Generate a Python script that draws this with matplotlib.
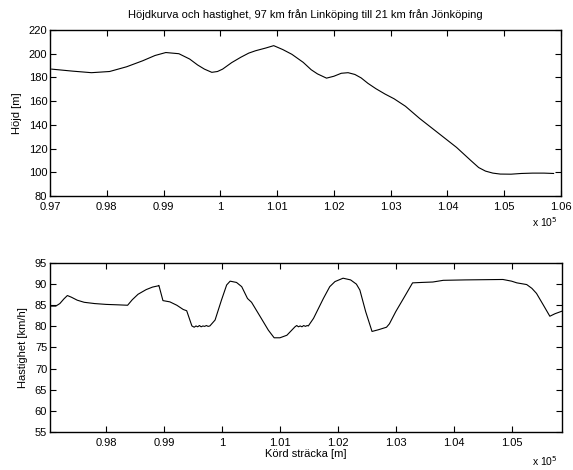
import matplotlib
matplotlib.use('Agg')
import matplotlib.pyplot as plt
from matplotlib.ticker import FuncFormatter

plt.rcParams['font.family'] = ['Liberation Sans', 'DejaVu Sans']
plt.rcParams['font.size'] = 8

# Höjdkurva: sträcka [m], höjd [m]
dist_h = [97030, 97400, 97730, 98050, 98350, 98630, 98850, 99040, 99270, 99460,
          99600, 99720, 99850, 99950, 100040, 100200, 100360, 100500, 100620,
          100800, 100940, 101100, 101260, 101460, 101600, 101710, 101870,
          102000, 102130, 102250, 102370, 102480, 102600, 102740, 102900,
          103060, 103260, 103510, 103830, 104160, 104410, 104550, 104670,
          104800, 104930, 105120, 105300, 105500, 105700, 105870]
hojd = [187, 185.3, 184, 185, 189, 194, 198.5, 201, 200, 195.5,
        190.5, 187, 184.3, 185, 187, 192.5, 197, 200.5, 202.5,
        204.8, 206.8, 203.5, 199.5, 192.7, 186.5, 183, 179.4,
        181, 183.5, 184, 182.5, 179.6, 175, 170.5, 166,
        162, 155.7, 145.4, 133.4, 121, 110, 104, 101,
        99.3, 98.5, 98.4, 99, 99.3, 99.3, 99]

# Hastighet: sträcka [m], hastighet [km/h]
dist_v = [97030, 97130, 97200, 97270, 97330, 97400, 97500, 97620, 97800,
          98000, 98200, 98370, 98450, 98550, 98690, 98800, 98900, 98910,
          98980, 99100, 99220, 99330, 99390, 99480,
          99520, 99550, 99580, 99610, 99640, 99670, 99700, 99730, 99760, 99790,
          99880, 99990, 100080, 100140, 100250, 100340, 100440, 100510,
          100660, 100800, 100900, 101000, 101120, 101260,
          101290, 101320, 101350, 101380, 101410, 101440, 101470, 101490,
          101580, 101750, 101860, 101950, 102090, 102220, 102320, 102380,
          102480, 102590, 102700, 102840, 102890, 103000, 103150, 103290,
          103450, 103640, 103820, 104200, 104850, 105000, 105090, 105260,
          105350, 105430, 105550, 105660, 105750, 105870]
hastighet = [84.8, 84.8, 85.4, 86.5, 87.3, 86.9, 86.2, 85.7, 85.4,
             85.2, 85.1, 85.0, 86.3, 87.6, 88.7, 89.3, 89.6, 89.7,
             86.1, 85.8, 85.0, 84.0, 83.7, 80.1,
             79.8, 80.1, 79.9, 80.2, 79.9, 80.1, 80.0, 80.2, 80.0, 80.1,
             81.5, 86.2, 89.8, 90.7, 90.4, 89.4, 86.6, 85.7,
             82.3, 79.1, 77.3, 77.3, 77.9, 79.9,
             80.2, 79.9, 80.1, 79.9, 80.2, 80.0, 80.2, 80.1,
             81.9, 86.6, 89.4, 90.6, 91.4, 91.0, 90.0, 88.6,
             83.5, 78.8, 79.2, 79.8, 80.6, 83.5, 87.0, 90.3,
             90.4, 90.5, 90.9, 91.0, 91.1, 90.7, 90.3, 89.9,
             89.0, 87.8, 85.0, 82.4, 83.0, 83.6]

top_xticks = [97000 + 1000 * i for i in range(10)]
top_yticks = [80, 100, 120, 140, 160, 180, 200, 220]
bot_xticks = [98000 + 1000 * i for i in range(8)]
bot_yticks = [55, 60, 65, 70, 75, 80, 85, 90, 95]

fmt = FuncFormatter(lambda v, p: ('%g' % round(v / 1e5, 4)))

fig = plt.figure(figsize=(5.73, 4.70), dpi=100)
ax1 = fig.add_axes([50 / 573, 1 - 196 / 470, 511 / 573, 166 / 470])
ax2 = fig.add_axes([50 / 573, 1 - 432 / 470, 512 / 573, 169 / 470])

ax1.plot(dist_h, hojd, color='black', lw=0.8)
ax1.set_xlim(97000, 106000)
ax1.set_ylim(80, 220)
ax1.set_xticks(top_xticks)
ax1.set_yticks(top_yticks)
ax1.set_ylabel('Höjd [m]')
ax1.set_title('Höjdkurva och hastighet, 97 km från Linköping till 21 km från Jönköping',
              fontsize=8, pad=9)

ax2.plot(dist_v, hastighet, color='black', lw=0.8)
ax2.set_xlim(97030, 105870)
ax2.set_ylim(55, 95)
ax2.set_xticks(bot_xticks)
ax2.set_yticks(bot_yticks)
ax2.set_ylabel('Hastighet [km/h]')
ax2.set_xlabel('Körd sträcka [m]', labelpad=1)

for ax in (ax1, ax2):
    ax.xaxis.set_major_formatter(fmt)
    ax.tick_params(direction='in', top=True, right=True, length=4, width=0.8,
                   labelsize=8)
    ax.tick_params(axis='x', pad=4)
    ax.tick_params(axis='y', pad=2)
    for s in ax.spines.values():
        s.set_linewidth(1.0)
    ax.yaxis.labelpad = 5

fig.text(545 / 573, 1 - 222 / 470, r'x 10$^5$', ha='center', va='center', fontsize=7.5)
fig.text(545 / 573, 1 - 461 / 470, r'x 10$^5$', ha='center', va='center', fontsize=7.5)

fig.savefig('out.png', dpi=100)
